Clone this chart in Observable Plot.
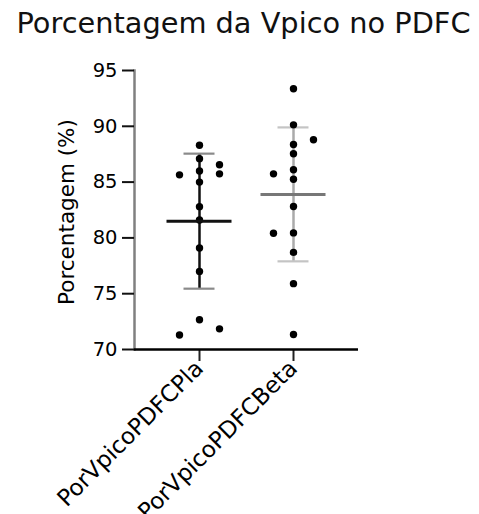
<!DOCTYPE html>
<html>
<head>
<meta charset="utf-8">
<script src="https://cdn.jsdelivr.net/npm/d3@7"></script>
<script src="https://cdn.jsdelivr.net/npm/@observablehq/plot@0.6"></script>
<style>
  html, body { margin: 0; padding: 0; background: #fff; }
  #title { width: 479px; height: 50px; line-height: 47px; text-align: center; text-indent: 8px;
           font-family: "DejaVu Sans", sans-serif; font-size: 28.8px; color: #111; white-space: nowrap; }
</style>
</head>
<body>
<div id="title">Porcentagem da Vpico no PDFC</div>
<div id="chart"></div>
<script>
const categories = ["PorVpicoPDFCPla", "PorVpicoPDFCBeta"];
const plaValues = [88.3, 87.1, 86.55, 86.0, 85.74, 85.65, 85.0, 82.8, 81.6, 79.1, 77.0, 72.66, 71.85, 71.3];
const plaLane   = [0, 0, 1, 0, 1, -1, 0, 0, 0, 0, 0, 0, 1, -1];
const betaValues = [93.36, 90.13, 88.79, 88.37, 87.54, 86.1, 85.74, 85.26, 82.81, 80.45, 80.42, 78.7, 75.9, 71.34];
const betaLane   = [0, 0, 1, 0, 0, 0, -1, 0, 0, 0, -1, 0, 0, 0];
const means = [81.5, 83.9];
const sds = [6.05, 6.0];
const yTicks = [70, 75, 80, 85, 90, 95];
const yLabel = "Porcentagem (%)";

const points = [
  ...plaValues.map((v, i) => ({cat: categories[0], v, lane: plaLane[i]})),
  ...betaValues.map((v, i) => ({cat: categories[1], v, lane: betaLane[i]}))
];
const stats = categories.map((cat, i) => ({cat, mean: means[i], lo: means[i] - sds[i], hi: means[i] + sds[i], i}));
const barColor = ["#111", "#aaa"];
const capColor = ["#8a8a8a", "#c4c4c4"];
const meanColor = ["#111", "#777"];

const lanes = [-1, 0, 1].map(l =>
  Plot.dot(points.filter(d => d.lane === l), {x: "cat", y: "v", dx: l * 20, r: 3.7, fill: "#000", stroke: "none"})
);

const chart = Plot.plot({
  width: 479,
  height: 464,
  marginTop: 20,
  marginBottom: 165,
  marginLeft: 134,
  marginRight: 121,
  style: {fontFamily: "DejaVu Sans, sans-serif", fontSize: "19px", color: "#000", background: "#fff", overflow: "visible"},
  x: {type: "band", domain: categories, paddingInner: 0.6, paddingOuter: 0.479},
  y: {domain: [70, 95]},
  marks: [
    Plot.frame({anchor: "left", stroke: "#808080", strokeWidth: 2.5}),
    Plot.axisY({ticks: yTicks, tickSize: 12, tickPadding: 5, stroke: "#111", strokeWidth: 2, label: null, fontSize: 19.5}),
    Plot.axisX({tickSize: 12, tickPadding: 3, tickRotate: -45, stroke: "#222", strokeWidth: 2, label: null, fontSize: 23}),
    Plot.text([yLabel], {frameAnchor: "left", textAnchor: "middle", dx: -67, dy: 2, rotate: -90, fontSize: 21.5, fill: "#000"}),
    Plot.ruleX(stats, {x: "cat", y1: "lo", y2: "hi", stroke: d => barColor[d.i], strokeWidth: 2.5}),
    Plot.tickY(stats, {x: "cat", y: "hi", stroke: d => capColor[d.i], strokeWidth: 2.2, insetLeft: 3.5, insetRight: 3.5}),
    Plot.tickY(stats, {x: "cat", y: "lo", stroke: d => capColor[d.i], strokeWidth: 2.2, insetLeft: 3.5, insetRight: 3.5}),
    ...lanes,
    Plot.tickY(stats, {x: "cat", y: "mean", stroke: d => meanColor[d.i], strokeWidth: 3, insetLeft: -13.5, insetRight: -13.5}),
    Plot.ruleY([70], {stroke: "#000", strokeWidth: 2.5})
  ]
});
document.getElementById("chart").appendChild(chart);
</script>
</body>
</html>
